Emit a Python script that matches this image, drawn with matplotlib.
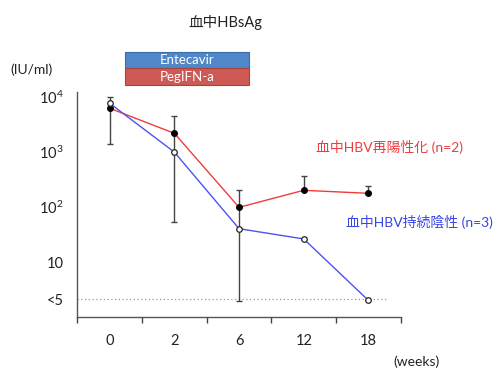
import matplotlib
matplotlib.use("Agg")
import matplotlib.pyplot as plt
from matplotlib.patches import Rectangle

plt.rcParams['font.family'] = ['Lato', 'Noto Sans CJK JP', 'DejaVu Sans']
plt.rcParams['mathtext.fontset'] = 'custom'
plt.rcParams['mathtext.rm'] = 'Lato'

weeks = ['0', '2', '6', '12', '18']
reactivated = [6280, 2200, 99, 202, 178]      # 血中HBV再陽性化 (n=2)
persistent_neg = [7740, 1000, 40.4, 26.3, 2.0]  # 血中HBV持続陰性 (n=3)
err_top = [9960, 4550, 205, 373, 245]
err_bottom = [1410, 52.9, 1.98, 202, 178]
ytick_vals = [10000, 1000, 100, 10, 2.1]
ytick_labels = [r'$\mathregular{10^4}$', r'$\mathregular{10^3}$', r'$\mathregular{10^2}$', '10', '<5']
lod_value = 2.1

fig = plt.figure(figsize=(4.96, 3.69), dpi=100)
ax = fig.add_axes([0.156, 0.141, 0.652, 0.6105])
x = list(range(len(weeks)))

ax.set_yscale('log')
ax.set_ylim(1, 10 ** 4.1)
ax.set_xlim(-0.5, 4.5)

# detection limit line
ax.plot([-0.5, 4.3], [lod_value, lod_value], linestyle=(0, (1, 2)), color='#999999', lw=0.9, zorder=1)

# error bars
lower = [r - b for r, b in zip(reactivated, err_bottom)]
upper = [t - r for r, t in zip(reactivated, err_top)]
ax.errorbar(x, reactivated, yerr=[lower, upper], fmt='none', ecolor='#444444',
            elinewidth=1.0, capsize=2.2, capthick=1.0, zorder=2)

ax.plot(x, reactivated, color='#f03c3c', lw=1.0, marker='o', ms=4,
        mfc='black', mec='black', zorder=3)
ax.plot(x, persistent_neg, color='#4a55ee', lw=1.0, marker='o', ms=4,
        mfc='white', mec='#222222', mew=0.9, zorder=4)

ax.set_yticks(ytick_vals)
ax.set_yticklabels(ytick_labels)
ax.yaxis.set_minor_locator(matplotlib.ticker.NullLocator())
ax.tick_params(axis='y', length=0, labelsize=10.5, pad=10, colors='#222222')
ax.set_xticks(x)
ax.set_xticklabels(weeks)
ax.tick_params(axis='x', length=0, labelsize=10.5, pad=12, colors='#222222')
ax.set_xticks([-0.5, 0.5, 1.5, 2.5, 3.5, 4.5], minor=True)
ax.tick_params(axis='x', which='minor', length=4, width=1.0, color='#444444')

for s in ['top', 'right']:
    ax.spines[s].set_visible(False)
for s in ['left', 'bottom']:
    ax.spines[s].set_color('#555555')
    ax.spines[s].set_linewidth(1.0)

# texts
fig.text(225 / 496, 1 - 22 / 369, '血中HBsAg', ha='center', va='center', fontsize=10.5, color='#222222')
fig.text(10 / 496, 1 - 70 / 369, '(IU/ml)', ha='left', va='center', fontsize=10, color='#222222')
fig.text(417 / 496, 1 - 362 / 369, '(weeks)', ha='center', va='center', fontsize=10, color='#222222')
fig.text(389 / 496, 1 - 147 / 369, '血中HBV再陽性化 (n=2)', ha='center', va='center', fontsize=10, color='#f03c3c')
fig.text(419 / 496, 1 - 222 / 369, '血中HBV持続陰性 (n=3)', ha='center', va='center', fontsize=10, color='#3a45e6')

# treatment boxes
bx0, bx1 = 125 / 496, 249 / 496
for (y0, y1, fc, ec, label) in [(51.7, 68.3, '#4f87c8', '#3a6ea8', 'Entecavir'),
                                (68.3, 85.0, '#cf5a55', '#a84440', 'PegIFN-a')]:
    fig.patches.append(Rectangle((bx0, 1 - y1 / 369), bx1 - bx0, (y1 - y0) / 369,
                                 transform=fig.transFigure, facecolor=fc, edgecolor=ec, lw=0.8))
    fig.text((bx0 + bx1) / 2, 1 - (y0 + y1) / 2 / 369, label, ha='center', va='center',
             fontsize=9.5, color='white')

fig.savefig('out.png', dpi=100)
